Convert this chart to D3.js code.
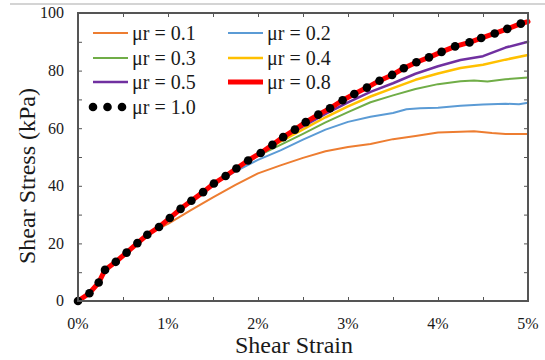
<!DOCTYPE html>
<html><head><meta charset="utf-8">
<script src="https://cdn.jsdelivr.net/npm/d3@7"></script>
<style>body{margin:0;background:#fff}svg{display:block}text{font-family:"Liberation Serif","Times New Roman",serif;fill:#1a1a1a}</style>
</head><body><svg id="c" width="545" height="360"></svg>
<script>
// ---- data ----
const seriesNames = ["μr = 0.1","μr = 0.2","μr = 0.3","μr = 0.4","μr = 0.5","μr = 0.8","μr = 1.0"];
const xTickLabels = ["0%","1%","2%","3%","4%","5%"];
const yTickLabels = ["0","20","40","60","80","100"];

const strain01 = [0,0.127,0.23,0.30,0.42,0.54,0.66,0.77,0.9,1.0,1.25,1.5,1.75,2.0,2.25,2.5,2.75,3.0,3.25,3.5,3.75,4.0,4.25,4.4,4.6,4.75,5.0];
const stress01 = [0,2.7,6.4,10.8,13.6,16.8,20.1,22.9,25.2,26.8,31.5,36.0,40.3,44.3,47.1,49.7,52.0,53.5,54.5,56.2,57.3,58.5,58.8,58.9,58.3,58.0,58.0];

const strain02 = [0,0.127,0.23,0.30,0.42,0.54,0.66,0.77,0.90,1.02,1.14,1.26,1.39,1.51,1.64,1.75,2.0,2.25,2.5,2.75,3.0,3.25,3.5,3.65,3.8,4.0,4.25,4.5,4.75,4.9,5.0];
const stress02 = [0,2.7,6.4,10.8,13.6,16.8,20.1,23.0,25.7,28.8,32.0,34.8,37.8,40.6,42.9,45.0,49.0,52.3,56.0,59.5,62.2,64.0,65.3,66.6,66.9,67.1,67.8,68.2,68.5,68.3,68.8];

const strain03 = [0,0.127,0.23,0.30,0.42,0.54,0.66,0.77,0.90,1.02,1.14,1.26,1.39,1.51,1.64,1.76,1.89,2.0,2.25,2.5,2.75,3.0,3.25,3.5,3.75,4.0,4.25,4.4,4.55,4.75,5.0];
const stress03 = [0,2.7,6.4,10.8,13.6,16.8,20.1,23.0,25.7,28.8,32.0,34.8,37.8,40.8,43.4,46.0,48.5,50.4,54.2,58.0,62.0,65.6,69.0,71.4,73.6,75.3,76.3,76.6,76.2,77.0,77.6];

const strain04 = [0,0.127,0.23,0.30,0.42,0.54,0.66,0.77,0.90,1.02,1.14,1.26,1.39,1.51,1.64,1.76,1.89,2.0,2.25,2.5,2.75,3.0,3.25,3.5,3.75,4.0,4.25,4.5,4.75,5.0];
const stress04 = [0,2.7,6.4,10.8,13.6,16.8,20.1,23.0,25.7,28.8,32.0,34.8,37.8,40.8,43.4,46.0,48.8,50.9,55.3,59.6,63.8,67.6,71.0,73.9,76.8,79.0,80.9,82.0,83.8,85.4];

const strain05 = [0,0.127,0.23,0.30,0.42,0.54,0.66,0.77,0.90,1.02,1.14,1.26,1.39,1.51,1.64,1.76,1.89,2.03,2.16,2.25,2.5,2.75,3.0,3.25,3.5,3.75,4.0,4.25,4.5,4.75,5.0];
const stress05 = [0,2.7,6.4,10.8,13.6,16.8,20.1,23.0,25.7,28.8,32.0,34.8,37.8,40.8,43.4,46.0,48.8,51.4,54.2,56.2,60.6,65.0,69.0,72.6,75.6,78.9,81.5,83.7,85.0,88.0,90.0];

const strain08 = [0,0.127,0.23,0.30,0.42,0.54,0.66,0.77,0.90,1.02,1.14,1.26,1.39,1.51,1.64,1.76,1.89,2.03,2.16,2.28,2.41,2.53,2.67,2.80,2.94,3.07,3.21,3.35,3.49,3.62,3.76,3.90,4.04,4.19,4.35,4.48,4.63,4.77,4.92,5.0];
const stress08 = [0,2.7,6.4,10.8,13.6,16.8,20.1,23.0,25.7,28.8,32.0,34.8,37.8,40.8,43.4,46.0,48.8,51.4,54.2,56.9,59.5,62.1,64.7,66.9,69.7,71.9,74.1,76.5,78.5,80.8,82.9,84.6,86.5,88.4,89.8,91.3,92.9,94.5,96.3,97.0];

const strain10 = [0,0.127,0.23,0.30,0.42,0.54,0.66,0.77,0.90,1.02,1.14,1.26,1.39,1.51,1.64,1.76,1.89,2.03,2.16,2.28,2.41,2.53,2.67,2.80,2.94,3.07,3.21,3.35,3.49,3.62,3.76,3.90,4.04,4.19,4.35,4.48,4.63,4.77,4.92];
const stress10 = [0,2.7,6.4,10.8,13.6,16.8,20.1,23.0,25.7,28.8,32.0,34.8,37.8,40.8,43.4,46.0,48.8,51.4,54.2,56.9,59.5,62.1,64.7,66.9,69.7,71.9,74.1,76.5,78.5,80.8,82.9,84.6,86.5,88.4,89.8,91.3,92.9,94.5,96.3];

// ---- chart ----
const svg = d3.select("#c");
const L = 78, R = 528, T = 13, B = 301;
const x = d3.scaleLinear().domain([0, 5]).range([L, R]);
const y = d3.scaleLinear().domain([0, 100]).range([B, T]);

svg.append("line").attr("x1",10).attr("x2",545).attr("y1",4).attr("y2",4)
  .attr("stroke","#d4d4d4").attr("stroke-width",2);

const zip = (a, b) => a.map((v, i) => [v, b[i]]);
const lines = [
  {name: seriesNames[0], d: zip(strain01, stress01), color: "#ED7D31", w: 2},
  {name: seriesNames[1], d: zip(strain02, stress02), color: "#5B9BD5", w: 2},
  {name: seriesNames[2], d: zip(strain03, stress03), color: "#70AD47", w: 2},
  {name: seriesNames[3], d: zip(strain04, stress04), color: "#FFC000", w: 2.5},
  {name: seriesNames[4], d: zip(strain05, stress05), color: "#7030A0", w: 2.5},
  {name: seriesNames[5], d: zip(strain08, stress08), color: "#FF0000", w: 5}
];
const dots = zip(strain10, stress10);

const lineGen = d3.line().x(d => x(d[0])).y(d => y(d[1]));
svg.append("g").selectAll("path").data(lines).join("path")
  .attr("d", d => lineGen(d.d)).attr("fill","none")
  .attr("stroke", d => d.color).attr("stroke-width", d => d.w)
  .attr("stroke-linejoin","round").attr("stroke-linecap","round");
svg.append("g").selectAll("circle").data(dots).join("circle")
  .attr("cx", d => x(d[0])).attr("cy", d => y(d[1])).attr("r", 4.3).attr("fill","#000");

// axes (ticks inside on all four sides)
const axisColor = "#555";
const xt = d3.range(0, 5.01, 0.5), yt = d3.range(0, 100.1, 10);
const mk = (g) => g.call(s => s.select(".domain").remove())
  .call(s => s.selectAll("line").attr("stroke", axisColor).attr("stroke-width",1));
svg.append("g").attr("transform",`translate(0,${B})`)
  .call(d3.axisBottom(x).tickValues(xt).tickSizeInner(-4).tickSizeOuter(0).tickFormat("")).call(mk);
svg.append("g").attr("transform",`translate(0,${T})`)
  .call(d3.axisTop(x).tickValues(xt).tickSizeInner(-4).tickSizeOuter(0).tickFormat("")).call(mk);
svg.append("g").attr("transform",`translate(${L},0)`)
  .call(d3.axisLeft(y).tickValues(yt).tickSizeInner(-4).tickSizeOuter(0).tickFormat("")).call(mk);
svg.append("g").attr("transform",`translate(${R},0)`)
  .call(d3.axisRight(y).tickValues(yt).tickSizeInner(-4).tickSizeOuter(0).tickFormat("")).call(mk);

svg.append("rect").attr("x",L).attr("y",T).attr("width",R-L).attr("height",B-T)
  .attr("fill","none").attr("stroke",axisColor).attr("stroke-width",2);

// tick labels
svg.append("g").selectAll("text").data(xTickLabels).join("text")
  .attr("x", (d, i) => x(i)).attr("y", 329).attr("text-anchor","middle")
  .attr("font-size", 16).text(d => d);
svg.append("g").selectAll("text").data(yTickLabels).join("text")
  .attr("x", 64).attr("y", (d, i) => y(i * 20)).attr("dy","0.34em").attr("text-anchor","end")
  .attr("font-size", 16).text(d => d);

// axis titles
svg.append("text").attr("x", 294).attr("y", 353).attr("text-anchor","middle")
  .attr("font-size", 24).text("Shear Strain");
svg.append("text").attr("transform","translate(35,176) rotate(-90)").attr("text-anchor","middle")
  .attr("font-size", 24).text("Shear Stress (kPa)");

// legend
const legPos = [[93,33],[228,33],[93,58],[228,58],[93,82],[228,82]];
const leg = svg.append("g");
lines.forEach((s, i) => {
  const [lx, ly] = legPos[i];
  leg.append("line").attr("x1", lx).attr("x2", lx + 35).attr("y1", ly).attr("y2", ly)
    .attr("stroke", s.color).attr("stroke-width", s.w);
  leg.append("text").attr("x", lx + 39).attr("y", ly + 7).attr("font-size", 20).text(s.name);
});
[93, 107.5, 122].forEach(cx => leg.append("circle").attr("cx", cx).attr("cy", 107).attr("r", 4.3).attr("fill","#000"));
leg.append("text").attr("x", 132).attr("y", 114).attr("font-size", 20).text(seriesNames[6]);
</script></body></html>
